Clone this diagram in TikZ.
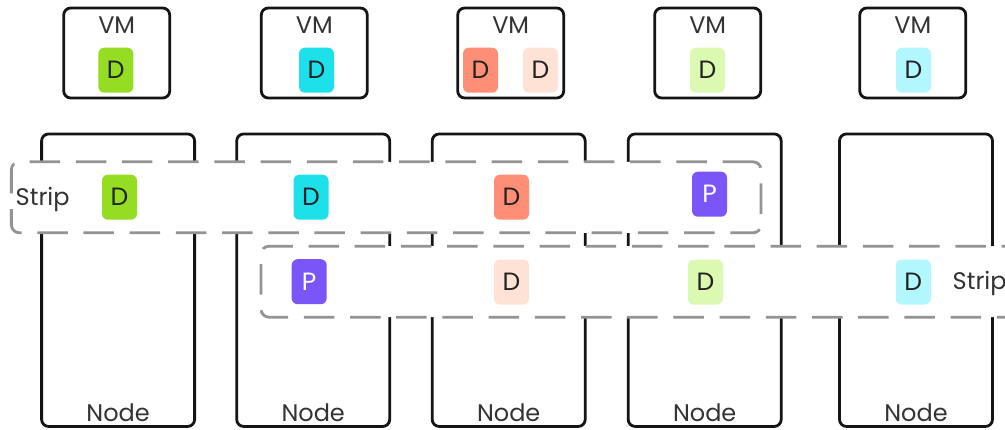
\documentclass[tikz,border=0pt]{standalone}
\usepackage{fontspec}
\setmainfont{Poppins}
\definecolor{txt}{HTML}{333333}
\definecolor{chiptxt}{HTML}{222222}
\definecolor{stripgray}{HTML}{939393}
\definecolor{cgreen}{HTML}{94DD22}
\definecolor{ccyan}{HTML}{1EE0EA}
\definecolor{csalmon}{HTML}{FF8E76}
\definecolor{cpeach}{HTML}{FFE2D6}
\definecolor{clgreen}{HTML}{DBF9B0}
\definecolor{clcyan}{HTML}{B2F7FE}
\definecolor{cpurple}{HTML}{7A56F8}
\begin{document}
\begin{tikzpicture}[x=1pt,y=-1pt,
  boxline/.style={draw=black!92, line width=2.8pt, rounded corners=7pt, inner sep=0pt},
  nodebox/.style={boxline, minimum width=153pt, minimum height=292.5pt},
  vmbox/.style={boxline, minimum width=106pt, minimum height=90pt},
  stripbox/.style={draw=stripgray, fill=white, line width=2.8pt, dash pattern=on 30.5pt off 15.7pt, rounded corners=8pt, minimum height=71pt, inner sep=0pt},
  lbl/.style={text=txt, font=\fontsize{24}{24}\selectfont, inner sep=0pt},
  chip/.style={rounded corners=6pt, minimum width=35pt, minimum height=45pt, inner sep=0pt, text=chiptxt, font=\fontsize{25}{25}\selectfont},
  pchip/.style={chip, fill=cpurple, text=white}
]
\clip (0,0) rectangle (1005,429);
\useasboundingbox (0,0) rectangle (1005,429);

% Node boxes
\node[nodebox] (n1) at (118.1,280.2) {};
\node[nodebox] (n2) at (313.2,280.2) {};
\node[nodebox] (n3) at (508.7,280.2) {};
\node[nodebox] (n4) at (704.7,280.2) {};
\node[nodebox] (n5) at (916.0,280.2) {};
\foreach \i in {1,...,5} {
  \node[lbl, anchor=base] (nl\i) at ([yshift=6pt]n\i.south) {Node};
}

% VM boxes
\node[vmbox] (v1) at (116.7,53) {};
\node[vmbox] (v2) at (314.3,53) {};
\node[vmbox] (v3) at (510.7,53) {};
\node[vmbox] (v4) at (707.7,53) {};
\node[vmbox] (v5) at (912.8,53) {};
\foreach \i in {1,...,5} {
  \node[lbl, anchor=base] (vl\i) at ([yshift=-27pt]v\i.north) {VM};
}
\node[chip, fill=cgreen] (vd1) at (115.8,70.2) {D};
\node[chip, fill=ccyan] (vd2) at (316.5,70.2) {D};
\node[chip, fill=csalmon] (vd3a) at (480.5,70.2) {D};
\node[chip, fill=cpeach] (vd3b) at (540.5,70.2) {D};
\node[chip, fill=clgreen] (vd4) at (707.5,70.2) {D};
\node[chip, fill=clcyan] (vd5) at (913.5,70.2) {D};

% Strips
\node[stripbox, minimum width=749.7pt] (s1) at (386.2,197.3) {};
\node[stripbox, minimum width=779pt] (s2) at (650.5,281.7) {};
\node[lbl, anchor=base west] (s1l) at (15.5,205) {Strip};
\node[lbl, anchor=base west] (s2l) at (952.5,289.5) {Strip};

% Strip 1 chips
\node[chip, fill=cgreen] (a1) at (119.5,197.2) {D};
\node[chip, fill=ccyan] (a2) at (311,197.2) {D};
\node[chip, fill=csalmon] (a3) at (511.5,197.2) {D};
\node[pchip] (a4) at (709.5,194.2) {P};

% Strip 2 chips
\node[pchip] (b1) at (309.2,281.7) {P};
\node[chip, fill=cpeach] (b2) at (511.5,282) {D};
\node[chip, fill=clgreen] (b3) at (705.5,282) {D};
\node[chip, fill=clcyan] (b4) at (913.3,282) {D};
\end{tikzpicture}
\end{document}
